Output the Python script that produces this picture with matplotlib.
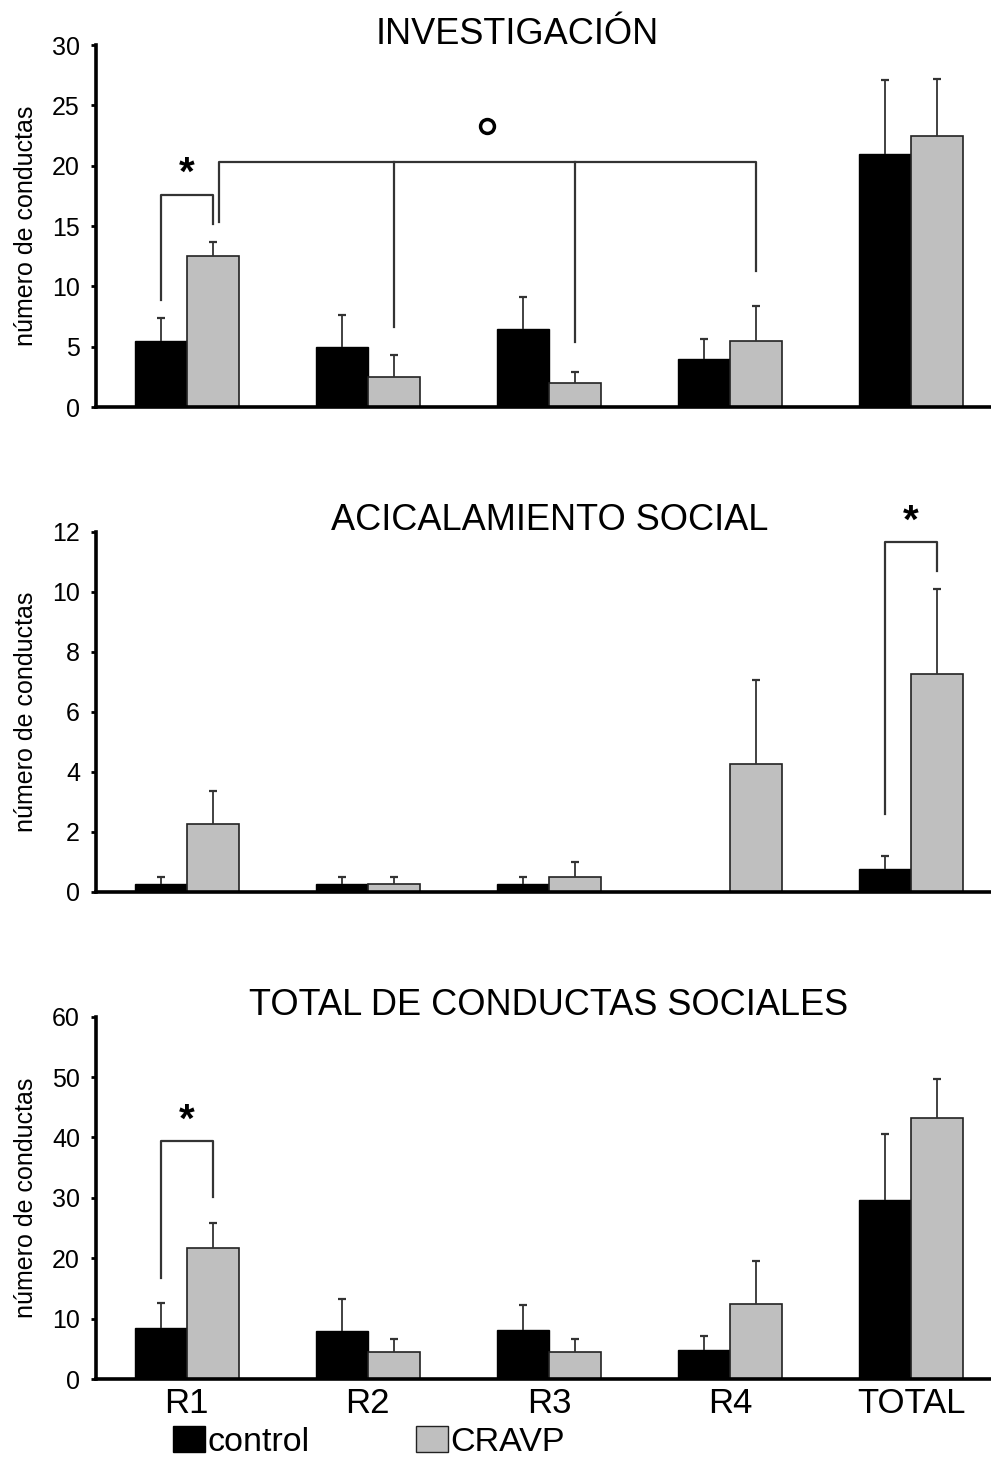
import matplotlib
matplotlib.use("Agg")
import matplotlib.pyplot as plt
from matplotlib.patches import Patch

plt.rcParams['font.family'] = ['Liberation Sans', 'DejaVu Sans']

categories = ["R1", "R2", "R3", "R4", "TOTAL"]
series_names = ["control", "CRAVP"]

titles = ["INVESTIGACIÓN", "ACICALAMIENTO SOCIAL", "TOTAL DE CONDUCTAS SOCIALES"]

inv_control = [5.5, 5.0, 6.5, 4.0, 21.0]
inv_control_err = [1.85, 2.6, 2.65, 1.6, 6.1]
inv_cravp = [12.5, 2.5, 2.0, 5.5, 22.5]
inv_cravp_err = [1.2, 1.8, 0.9, 2.9, 4.7]

aci_control = [0.25, 0.25, 0.25, 0.0, 0.75]
aci_control_err = [0.25, 0.25, 0.25, 0.0, 0.45]
aci_cravp = [2.25, 0.25, 0.5, 4.25, 7.25]
aci_cravp_err = [1.1, 0.25, 0.5, 2.8, 2.85]

tot_control = [8.5, 7.9, 8.1, 4.8, 29.6]
tot_control_err = [4.1, 5.3, 4.1, 2.4, 11.0]
tot_cravp = [21.7, 4.4, 4.4, 12.4, 43.2]
tot_cravp_err = [4.1, 2.3, 2.3, 7.1, 6.4]

y_max = [30, 12, 60]
y_step = [5, 2, 10]

panels = [
    (inv_control, inv_control_err, inv_cravp, inv_cravp_err),
    (aci_control, aci_control_err, aci_cravp, aci_cravp_err),
    (tot_control, tot_control_err, tot_cravp, tot_cravp_err),
]

colors = ["#000000", "#bfbfbf"]
W = 0.287

fig = plt.figure(figsize=(9.91, 14.63), dpi=100)
axes_pos = [
    [0.0969, 0.7218, 0.914, 0.2474],
    [0.0969, 0.3903, 0.914, 0.2463],
    [0.0969, 0.0574, 0.914, 0.2477],
]
title_x = [0.4647, 0.5007, 0.500]
axes = []
for k, (c, ce, g, ge) in enumerate(panels):
    ax = fig.add_axes(axes_pos[k])
    axes.append(ax)
    xs = list(range(len(categories)))
    xc = [x - W / 2 for x in xs]
    xg = [x + W / 2 for x in xs]
    ax.bar(xc, c, width=W, color=colors[0], edgecolor="black", linewidth=1.0, zorder=2)
    ax.bar(xg, g, width=W, color=colors[1], edgecolor="#222222", linewidth=1.2, zorder=2)
    for xx, v, e in list(zip(xc, c, ce)) + list(zip(xg, g, ge)):
        if e > 0:
            eb = ax.errorbar([xx], [v], yerr=[[0], [e]], fmt="none", ecolor="#333333",
                             elinewidth=1.3, capsize=3, capthick=1.6, zorder=3)
            for cl in eb[1]:
                if abs(cl.get_ydata()[0] - v) < 1e-9:
                    cl.set_visible(False)
    ax.set_xlim(-0.5, 4.5)
    ax.set_ylim(0, y_max[k])
    ax.set_yticks(range(0, y_max[k] + 1, y_step[k]))
    ax.tick_params(axis="y", labelsize=18, length=3.6, width=2, direction="out", pad=8)
    ax.tick_params(axis="x", length=0, labelsize=25, pad=6)
    if k == 2:
        ax.set_xticks(xs)
        ax.set_xticklabels(categories)
    else:
        ax.set_xticks([])
    for s in ["top", "right"]:
        ax.spines[s].set_visible(False)
    ax.spines["left"].set_linewidth(2.6)
    ax.spines["bottom"].set_linewidth(2.6)
    ax.set_ylabel("número de conductas", fontsize=18)
    ax.yaxis.set_label_coords(-0.064, 0.5)
    ax.text(title_x[k], 1.004, titles[k], transform=ax.transAxes, ha="center",
            va="baseline", fontsize=26)

lc = "#333333"
lw = 1.6
# Panel 1 annotations
ax = axes[0]
ax.plot([-W / 2, -W / 2, W / 2, W / 2], [8.85, 17.55, 17.55, 15.15], color=lc, lw=lw)
ax.text(0.0, 19.3, "*", ha="center", va="center", fontsize=29, fontweight="bold")
ax.plot([0.18, 0.18, 3 + W / 2, 3 + W / 2], [15.3, 20.3, 20.3, 11.3], color=lc, lw=lw)
ax.plot([1 + W / 2, 1 + W / 2], [20.3, 6.6], color=lc, lw=lw)
ax.plot([2 + W / 2, 2 + W / 2], [20.3, 5.4], color=lc, lw=lw)
ax.plot([1.66], [23.3], marker="o", ms=10, mfc="white", mec="black", mew=2.5, clip_on=False)

# Panel 2 annotations
ax = axes[1]
ax.plot([4 - W / 2, 4 - W / 2, 4 + W / 2, 4 + W / 2], [2.6, 11.65, 11.65, 10.7], color=lc, lw=lw)
ax.text(4.0, 12.33, "*", ha="center", va="center", fontsize=29, fontweight="bold", clip_on=False)

# Panel 3 annotations
ax = axes[2]
ax.plot([-W / 2, -W / 2, W / 2, W / 2], [16.7, 39.4, 39.4, 30.1], color=lc, lw=lw)
ax.text(0.0, 42.8, "*", ha="center", va="center", fontsize=29, fontweight="bold")

handles = [Patch(facecolor=colors[0], edgecolor="black"),
           Patch(facecolor=colors[1], edgecolor="#222222")]
fig.legend(handles, series_names, loc="center left", bbox_to_anchor=(0.175, 0.0146),
           ncol=2, frameon=False, fontsize=24.5, handlelength=0.94, handleheight=0.8,
           handletextpad=0.05, columnspacing=3.15, borderaxespad=0, borderpad=0)

fig.savefig("out.png", dpi=100)
